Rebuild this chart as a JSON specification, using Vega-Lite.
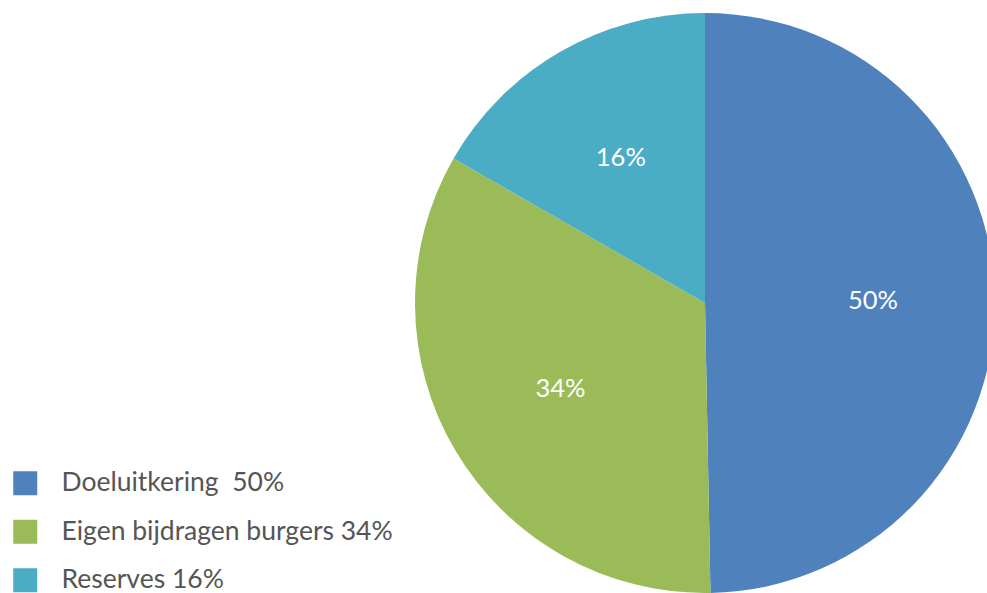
{
  "$schema": "https://vega.github.io/schema/vega-lite/v6.json",
  "width": 570,
  "height": 580,
  "autosize": {"type": "none"},
  "padding": {"left": 420, "top": 13, "right": -3, "bottom": 0},
  "background": "white",
  "data": {
    "values": [
      {"category": "Doeluitkering\u00a0 50%", "value": 49.7, "label": "50%"},
      {"category": "Eigen bijdragen burgers 34%", "value": 33.6, "label": "34%"},
      {"category": "Reserves 16%", "value": 16.7, "label": "16%"}
    ]
  },
  "encoding": {
    "theta": {"field": "value", "type": "quantitative", "stack": true},
    "order": {"field": "category", "type": "nominal"},
    "color": {
      "field": "category",
      "type": "nominal",
      "scale": {
        "domain": ["Doeluitkering\u00a0 50%", "Eigen bijdragen burgers 34%", "Reserves 16%"],
        "range": ["#4F81BD", "#9BBB59", "#4BACC6"]
      },
      "legend": {
        "title": null,
        "orient": "none",
        "legendX": -408,
        "legendY": 457,
        "padding": 0,
        "symbolType": "square",
        "symbolSize": 576,
        "symbolStrokeWidth": 0,
        "symbolOpacity": 1,
        "labelFont": "Lato",
        "labelFontSize": 26.5,
        "labelColor": "#555555",
        "labelOffset": 23,
        "labelLimit": 500,
        "rowPadding": 21.5
      }
    }
  },
  "layer": [
    {"mark": {"type": "arc", "outerRadius": 290}},
    {
      "mark": {"type": "text", "radius": 168, "font": "Lato", "fontSize": 25.5, "fill": "white"},
      "encoding": {"text": {"field": "label"}, "color": {"value": "white"}}
    }
  ],
  "config": {"view": {"stroke": null}}
}
